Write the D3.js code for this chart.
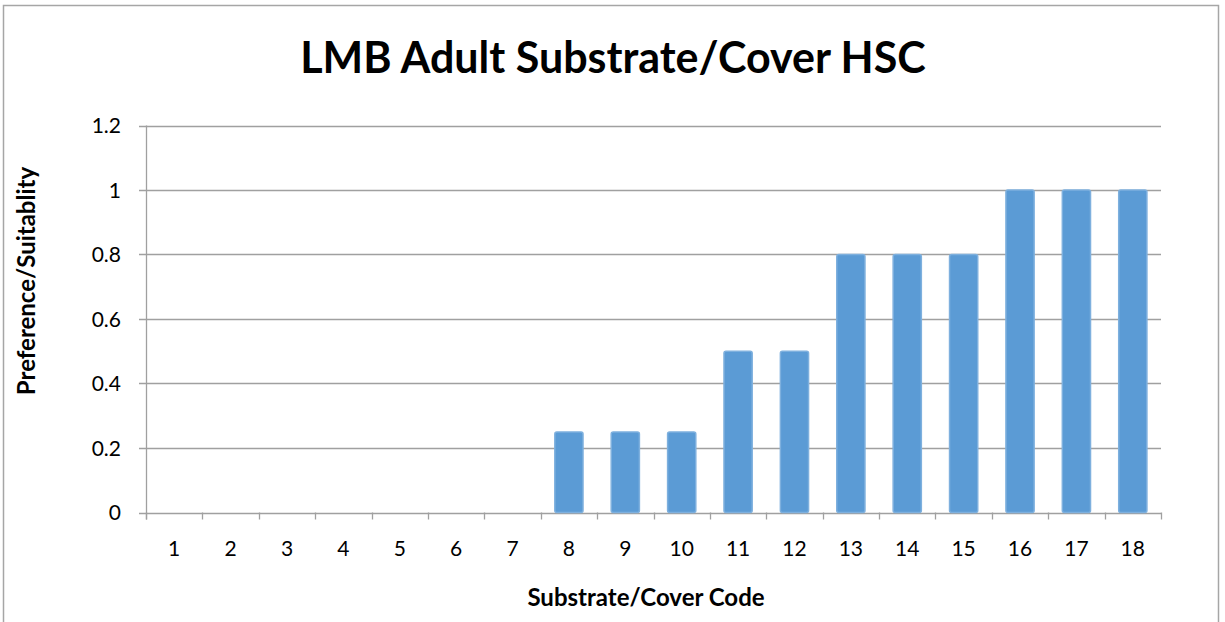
<!DOCTYPE html>
<html><head><meta charset="utf-8">
<script src="https://cdn.jsdelivr.net/npm/d3@7"></script>
<style>html,body{margin:0;padding:0;background:#fff;}svg{display:block;}</style>
</head><body>
<script>
const categories = ["1","2","3","4","5","6","7","8","9","10","11","12","13","14","15","16","17","18"];
const values = [0,0,0,0,0,0,0,0.25,0.25,0.25,0.5,0.5,0.8,0.8,0.8,1,1,1];
const yTicks = [0,0.2,0.4,0.6,0.8,1,1.2];
const title = "LMB Adult Substrate/Cover HSC";
const xTitle = "Substrate/Cover Code";
const yTitle = "Preference/Suitablity";

const W = 1225, H = 622;
const svg = d3.select("body").append("svg").attr("width", W).attr("height", H);
const font = "Lato, 'Open Sans', sans-serif";

svg.append("rect").attr("x",3.5).attr("y",5.5).attr("width",1215).attr("height",630)
  .attr("fill","#fff").attr("stroke","#a6a6a6").attr("stroke-width",1.5);

const m = {l:146, r:1161, t:125.5, b:512.5};
const x = d3.scaleBand().domain(categories).range([m.l, m.r]).paddingInner(0.5).paddingOuter(0.25);
const xb = d3.scaleBand().domain(categories).range([m.l, m.r]);
const y = d3.scaleLinear().domain([0,1.2]).range([m.b, m.t]);

// gridlines
svg.append("g").selectAll("line").data(yTicks).join("line")
  .attr("x1", m.l-7).attr("x2", m.r).attr("y1", d=>Math.round(y(d))+0.5).attr("y2", d=>Math.round(y(d))+0.5)
  .attr("stroke","#a0a0a0").attr("stroke-width",1.3);

// y axis line
svg.append("line").attr("x1",m.l+0.5).attr("x2",m.l+0.5).attr("y1",m.t).attr("y2",m.b+7)
  .attr("stroke","#a0a0a0").attr("stroke-width",1.3);

// x ticks
const bounds = categories.map(c=>xb(c)).concat([m.r]);
svg.append("g").selectAll("line").data(bounds).join("line")
  .attr("x1",d=>Math.round(d)+0.5).attr("x2",d=>Math.round(d)+0.5).attr("y1",m.b).attr("y2",m.b+7)
  .attr("stroke","#a0a0a0").attr("stroke-width",1.3);

// bars
svg.append("g").selectAll("rect").data(values.map((v,i)=>({c:categories[i],v})).filter(d=>d.v>0)).join("rect")
  .attr("x", d=>x(d.c)).attr("width", x.bandwidth())
  .attr("y", d=>y(d.v)).attr("height", d=>y(0)-y(d.v))
  .attr("rx",2).attr("ry",2)
  .attr("fill","#5b9bd5").attr("stroke","#7eb0de").attr("stroke-width",1.5);

// y tick labels
svg.append("g").selectAll("text").data(yTicks).join("text")
  .attr("x", 121).attr("y", d=>y(d)).attr("dy","0.36em").attr("text-anchor","end")
  .attr("font-family",font).attr("font-size",21).attr("fill","#000")
  .text(d=>String(d));

// x tick labels
svg.append("g").selectAll("text").data(categories).join("text")
  .attr("x", d=>xb(d)+xb.bandwidth()/2).attr("y", 556).attr("text-anchor","middle")
  .attr("font-family",font).attr("font-size",21).attr("fill","#000")
  .text(d=>d);

svg.append("text").attr("x",613).attr("y",73).attr("text-anchor","middle")
  .attr("font-family",font).attr("font-weight","bold").attr("font-size",43).text(title);

svg.append("text").attr("x",646).attr("y",606).attr("text-anchor","middle")
  .attr("font-family",font).attr("font-weight","bold").attr("font-size",24).text(xTitle);

svg.append("text").attr("transform","translate(35,281) rotate(-90)").attr("text-anchor","middle")
  .attr("font-family",font).attr("font-weight","bold").attr("font-size",24).text(yTitle);
</script>
</body></html>
